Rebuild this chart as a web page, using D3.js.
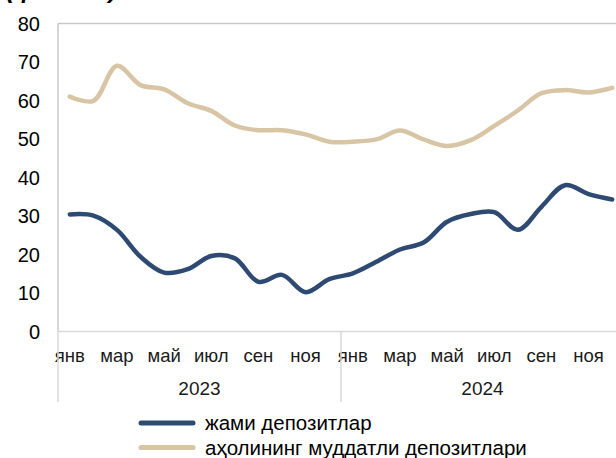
<!DOCTYPE html>
<html>
<head>
<meta charset="utf-8">
<script src="https://cdn.jsdelivr.net/npm/d3@7"></script>
<style>
  body { margin: 0; background: #fff; }
  svg { font-family: "Liberation Sans", Arial, sans-serif; }
</style>
</head>
<body>
<div id="chart"></div>
<script>
// oylar (2023 yanvar - 2024 dekabr)
const months = ["янв","фев","мар","апр","май","июн","июл","авг","сен","окт","ноя","дек"];
const years = ["2023", "2024"];
const jami = [30.4, 30.1, 26.4, 19.4, 15.3, 16.2, 19.6, 19.0, 12.9, 14.7, 10.2, 13.6,
              15.1, 18.1, 21.3, 23.1, 28.5, 30.5, 31.0, 26.4, 32.4, 38.0, 35.7, 34.3];
const aholi = [61.0, 59.9, 69.0, 64.0, 62.9, 59.3, 57.3, 53.5, 52.3, 52.3, 51.2, 49.3,
               49.3, 49.9, 52.2, 49.9, 48.2, 49.7, 53.4, 57.4, 61.9, 62.7, 62.1, 63.3];
const yTicks = [0, 10, 20, 30, 40, 50, 60, 70, 80];
const seriesNames = ["жами депозитлар", "аҳолининг муддатли депозитлари"];
const colors = ["#2F4A72", "#D8C5A6"];

const W = 616, H = 458;
const mLeft = 58, mTop = 23.5, mBottom = 331.5, mRight = 624;

const keys = [];
years.forEach(y => months.forEach(m => keys.push(y + "-" + m)));

const svg = d3.select("#chart").append("svg")
    .attr("width", W).attr("height", H);

const x = d3.scaleBand().domain(keys).range([mLeft, mRight]);
const y = d3.scaleLinear().domain([0, 80]).range([mBottom, mTop]);

// ramka
svg.append("line").attr("x1", mLeft).attr("x2", mRight)
    .attr("y1", mTop).attr("y2", mTop)
    .attr("stroke", "#c8c8c8").attr("stroke-width", 1.5);
svg.append("line").attr("x1", mLeft).attr("x2", mLeft)
    .attr("y1", mTop).attr("y2", mBottom)
    .attr("stroke", "#c8c8c8").attr("stroke-width", 1.5);
svg.append("line").attr("x1", mLeft).attr("x2", mRight)
    .attr("y1", mBottom).attr("y2", mBottom)
    .attr("stroke", "#d9d9d9").attr("stroke-width", 1.5);

// y o'qi
svg.selectAll(".ylab").data(yTicks).enter().append("text")
    .attr("x", 40).attr("y", d => y(d) + 7)
    .attr("text-anchor", "end")
    .attr("font-size", 20)
    .attr("fill", "#000")
    .text(d => d);

// oylar
svg.selectAll(".mlab").data(keys.filter((k, i) => i % 2 === 0)).enter().append("text")
    .attr("x", d => x(d) + x.bandwidth() / 2)
    .attr("y", 361.5)
    .attr("text-anchor", "middle")
    .attr("font-size", 18.5)
    .attr("fill", "#1a1a1a")
    .text(d => d.split("-")[1]);

// yillar va ajratgichlar
years.forEach((yr, i) => {
    const x0 = x(yr + "-янв");
    const x1 = x(yr + "-дек") + x.bandwidth();
    svg.append("line").attr("x1", x0).attr("x2", x0)
        .attr("y1", mBottom).attr("y2", 402)
        .attr("stroke", "#d9d9d9").attr("stroke-width", 1.5);
    svg.append("text")
        .attr("x", (x0 + x1) / 2).attr("y", 395)
        .attr("text-anchor", "middle")
        .attr("font-size", 19)
        .attr("fill", "#1a1a1a")
        .text(yr);
});

// chiziqlar
const line = d3.line()
    .x((d, i) => x(keys[i]) + x.bandwidth() / 2)
    .y(d => y(d))
    .curve(d3.curveCatmullRom.alpha(0.5));

[aholi, jami].forEach((s, j) => {
    svg.append("path")
        .attr("d", line(s))
        .attr("fill", "none")
        .attr("stroke", colors[1 - j])
        .attr("stroke-width", 4.5)
        .attr("stroke-linecap", "round");
});

// sarlavha (qirqilgan)
svg.append("text")
    .attr("x", 6).attr("y", -2)
    .attr("font-size", 25)
    .attr("font-weight", "bold")
    .attr("font-style", "italic")
    .text("(фоизда)");

// legenda
seriesNames.forEach((n, i) => {
    const ly = 423 + i * 24.5;
    svg.append("line").attr("x1", 141).attr("x2", 193)
        .attr("y1", ly).attr("y2", ly)
        .attr("stroke", colors[i]).attr("stroke-width", 5)
        .attr("stroke-linecap", "round");
    svg.append("text")
        .attr("x", 205).attr("y", ly + 7)
        .attr("font-size", 20.5)
        .attr("fill", "#000")
        .text(n);
});
</script>
</body>
</html>
